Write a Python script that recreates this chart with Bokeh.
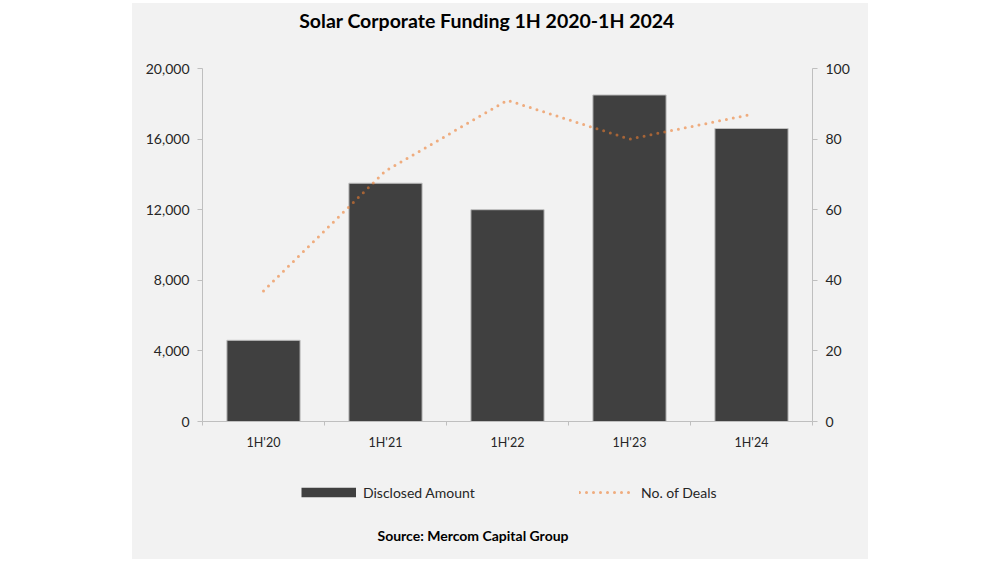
from bokeh.plotting import figure
from bokeh.layouts import column
from bokeh.models import (Range1d, LinearAxis, FixedTicker, NumeralTickFormatter,
                          Label, Legend, LegendItem, ColumnDataSource)
from bokeh.embed import file_html
from bokeh.resources import INLINE

categories = ["1H'20", "1H'21", "1H'22", "1H'23", "1H'24"]
disclosed_amount = [4600, 13500, 12000, 18500, 16600]
no_of_deals = [37, 71, 91, 80, 87]
left_ticks = [0, 4000, 8000, 12000, 16000, 20000]
right_ticks = [0, 20, 40, 60, 80, 100]

FONT = "Lato"
BG = "#F2F2F2"
AX = "#BFBFBF"
TXT = "#262626"
BAR = "#404040"
ORANGE = "#ED7D31"
W = 736
BL, BR = 70, 56          # left / right borders shared by all three panels
FL, FR = 132 + BL, 132 + W - BR   # frame edges in page pixels


def blank(h, top):
    # a figure whose data coordinates equal page pixels (y measured from the page top)
    f = figure(width=W, height=h, output_backend="svg", toolbar_location=None,
               title=None, x_range=Range1d(FL, FR), y_range=Range1d(top + h, top),
               min_border_left=BL, min_border_right=BR, min_border_top=0,
               min_border_bottom=0, x_axis_type=None, y_axis_type=None)
    f.background_fill_color = BG
    f.border_fill_color = BG
    f.outline_line_color = None
    f.xgrid.visible = False
    f.ygrid.visible = False
    return f


# ---- header with title
head = blank(42, 3)
head.add_layout(Label(x=486.5, y=20, text="Solar Corporate Funding 1H 2020-1H 2024",
                      text_font=FONT, text_font_style="bold", text_font_size="19.5px",
                      text_color="#000000", text_align="center", text_baseline="middle"))

# ---- main chart
xpos = [i + 0.5 for i in range(len(categories))]
src = ColumnDataSource(dict(x=xpos, amt=disclosed_amount, deals=no_of_deals))

p = figure(width=W, height=424, output_backend="svg", toolbar_location=None, title=None,
           x_range=Range1d(0, len(categories)), y_range=Range1d(0, 20000),
           min_border_left=BL, min_border_right=BR, min_border_top=23,
           min_border_bottom=48)
p.background_fill_color = BG
p.border_fill_color = BG
p.outline_line_color = None
p.xgrid.visible = False
p.ygrid.visible = False
p.extra_y_ranges = {"deals": Range1d(0, 100)}

p.vbar(x="x", top="amt", width=0.6, source=src, fill_color=BAR,
       line_color=AX, line_width=1)
p.line(x="x", y="deals", source=src, y_range_name="deals",
       line_color=ORANGE, line_alpha=0.6, line_width=3,
       line_dash="0 7", line_cap="round")

xa = p.xaxis[0]
xa.ticker = FixedTicker(ticks=xpos, minor_ticks=list(range(len(categories) + 1)))
xa.major_label_overrides = {x: c for x, c in zip(xpos, categories)}
xa.major_tick_out = 0
xa.major_tick_in = 0
xa.minor_tick_out = 4
xa.minor_tick_in = 0
xa.minor_tick_line_color = AX
xa.axis_line_color = AX
xa.major_label_text_font = FONT
xa.major_label_text_font_size = "12.5px"
xa.major_label_text_color = TXT
xa.major_label_standoff = 9

ya = p.yaxis[0]
ya.ticker = FixedTicker(ticks=left_ticks, minor_ticks=[])
ya.formatter = NumeralTickFormatter(format="0,0")
ya.major_tick_out = 5
ya.major_tick_in = 0
ya.major_tick_line_color = AX
ya.axis_line_color = AX
ya.major_label_text_font = FONT
ya.major_label_text_font_size = "14px"
ya.major_label_text_color = TXT
ya.major_label_standoff = 8

ra = LinearAxis(y_range_name="deals", ticker=FixedTicker(ticks=right_ticks, minor_ticks=[]))
ra.major_tick_out = 5
ra.major_tick_in = 0
ra.major_tick_line_color = AX
ra.axis_line_color = AX
ra.major_label_text_font = FONT
ra.major_label_text_font_size = "14px"
ra.major_label_text_color = TXT
ra.major_label_standoff = 8
p.add_layout(ra, "right")

# ---- footer with legend and source (legend proxies lie outside the visible range)
foot = blank(90, 469)
off = dict(x=[FL, FR], y=[700, 700])
sw_bar = foot.line(x="x", y="y", source=ColumnDataSource(off), line_color=BAR, line_width=9.5)
sw_dot = foot.line(x="x", y="y", source=ColumnDataSource(off), line_color=ORANGE,
                   line_alpha=0.6, line_width=3, line_dash="0 7", line_cap="round")
for label, rend, xloc in [("Disclosed Amount", sw_bar, 301 - FL), ("No. of Deals", sw_dot, 579 - FL)]:
    lg = Legend(items=[LegendItem(label=label, renderers=[rend])],
                location=(xloc, 57), orientation="horizontal",
                glyph_width=55, glyph_height=20, label_height=20,
                label_standoff=7, padding=0, margin=0, spacing=0,
                border_line_alpha=0, background_fill_alpha=0,
                label_text_font=FONT, label_text_font_size="14px",
                label_text_color=TXT)
    foot.add_layout(lg)
foot.add_layout(Label(x=472.5, y=535, text="Source: Mercom Capital Group",
                      text_font=FONT, text_font_style="bold", text_font_size="14px",
                      text_color="#000000", text_align="center", text_baseline="middle"))

layout = column(head, p, foot, spacing=0)
layout.margin = (3, 0, 0, 132)
layout.styles = {"background-color": BG}

open("out.html", "w").write(file_html(layout, INLINE))
